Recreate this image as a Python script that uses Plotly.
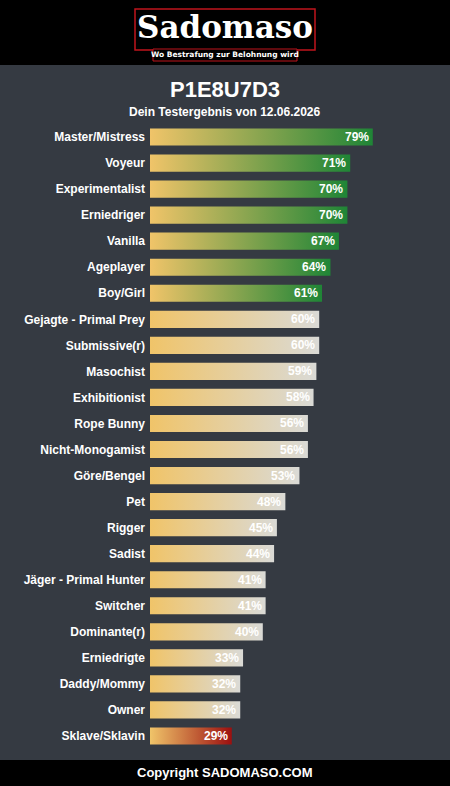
import plotly.graph_objects as go

W, H = 450, 786

categories = ["Master/Mistress", "Voyeur", "Experimentalist", "Erniedriger", "Vanilla",
              "Ageplayer", "Boy/Girl", "Gejagte - Primal Prey", "Submissive(r)", "Masochist",
              "Exhibitionist", "Rope Bunny", "Nicht-Monogamist", "Göre/Bengel", "Pet",
              "Rigger", "Sadist", "Jäger - Primal Hunter", "Switcher", "Dominante(r)",
              "Erniedrigte", "Daddy/Mommy", "Owner", "Sklave/Sklavin"]
values = [79, 71, 70, 70, 67, 64, 61, 60, 60, 59, 58, 56, 56, 53, 48, 45, 44, 41, 41, 40, 33, 32, 32, 29]

title_text = "P1E8U7D3"
subtitle_text = "Dein Testergebnis von 12.06.2026"
footer_text = "Copyright SADOMASO.COM"
logo_text = "Sadomaso"
logo_sub = "Wo Bestrafung zur Belohnung wird"

START = "#f0c469"
GREEN = "#1f8536"
GREY = "#dadad6"
RED = "#9c0f0f"
BG = "#353a42"
FONT = "Liberation Sans, Arial, sans-serif"


def px(x):
    return x / W


def py(y):
    return 1 - y / H


def end_color(v):
    if v > 60:
        return GREEN
    if v < 30:
        return RED
    return GREY


fig = go.Figure()
half = 0.33
for i, (c, v) in enumerate(zip(categories, values)):
    fig.add_trace(go.Scatter(
        x=[0, v, v, 0, 0],
        y=[i - half, i - half, i + half, i + half, i - half],
        mode="lines", fill="toself", line=dict(width=0),
        fillgradient=dict(type="horizontal",
                          colorscale=[[0, START], [1, end_color(v)]]),
        hoverinfo="skip", showlegend=False,
    ))

annotations = []
for i, v in enumerate(values):
    annotations.append(dict(x=v, y=i, xref="x", yref="y", text=f"{v}%",
                            xanchor="right", yanchor="middle", xshift=-2, showarrow=False,
                            font=dict(family=FONT, size=12, color="white", weight="bold")))

annotations += [
    dict(x=0.5, y=py(90), xref="paper", yref="paper", text=title_text, showarrow=False,
         xanchor="center", yanchor="middle",
         font=dict(family=FONT, size=22, color="white", weight="bold")),
    dict(x=0.5, y=py(112), xref="paper", yref="paper", text=subtitle_text, showarrow=False,
         xanchor="center", yanchor="middle",
         font=dict(family=FONT, size=12, color="white", weight="bold")),
    dict(x=0.5, y=py(772), xref="paper", yref="paper", text=footer_text, showarrow=False,
         xanchor="center", yanchor="middle",
         font=dict(family=FONT, size=13, color="white", weight="bold")),
    dict(x=0.5, y=py(27), xref="paper", yref="paper", text=logo_text, showarrow=False,
         xanchor="center", yanchor="middle",
         font=dict(family="DejaVu Serif, serif", size=31, color="white", weight="bold")),
    dict(x=0.5, y=py(55), xref="paper", yref="paper", text=logo_sub, showarrow=False,
         xanchor="center", yanchor="middle",
         font=dict(family="DejaVu Sans, sans-serif", size=7.5, color="white", weight="bold")),
]

shapes = [
    dict(type="rect", xref="paper", yref="paper", x0=0, x1=1, y0=py(65), y1=1,
         fillcolor="black", line=dict(width=0), layer="below"),
    dict(type="rect", xref="paper", yref="paper", x0=0, x1=1, y0=0, y1=py(760),
         fillcolor="black", line=dict(width=0), layer="below"),
    dict(type="rect", xref="paper", yref="paper", x0=px(135), x1=px(315), y0=py(50), y1=py(9),
         fillcolor="black", line=dict(color="#c0141c", width=1.5), layer="below"),
    dict(type="rect", xref="paper", yref="paper", x0=px(153), x1=px(297), y0=py(61), y1=py(49),
         fillcolor="black", line=dict(color="#c0141c", width=1), layer="below"),
]

fig.update_layout(
    width=W, height=H, margin=dict(l=0, r=0, t=0, b=0),
    paper_bgcolor=BG, plot_bgcolor="rgba(0,0,0,0)",
    template="none",
    xaxis=dict(range=[0, 100], domain=[px(150), px(432)], visible=False, fixedrange=True),
    yaxis=dict(range=[len(values) - 0.5, -0.5], domain=[py(749), py(124)],
               tickvals=list(range(len(categories))), ticktext=categories,
               ticks="", showgrid=False, zeroline=False, showline=False,
               ticklabelstandoff=4, automargin=False,
               tickfont=dict(family=FONT, size=12, color="white", weight="bold"),
               fixedrange=True),
    annotations=annotations, shapes=shapes,
)

fig.write_html("out.html", config={"displayModeBar": False},
               post_script="document.body.style.margin='0';document.body.style.overflow='hidden';")
